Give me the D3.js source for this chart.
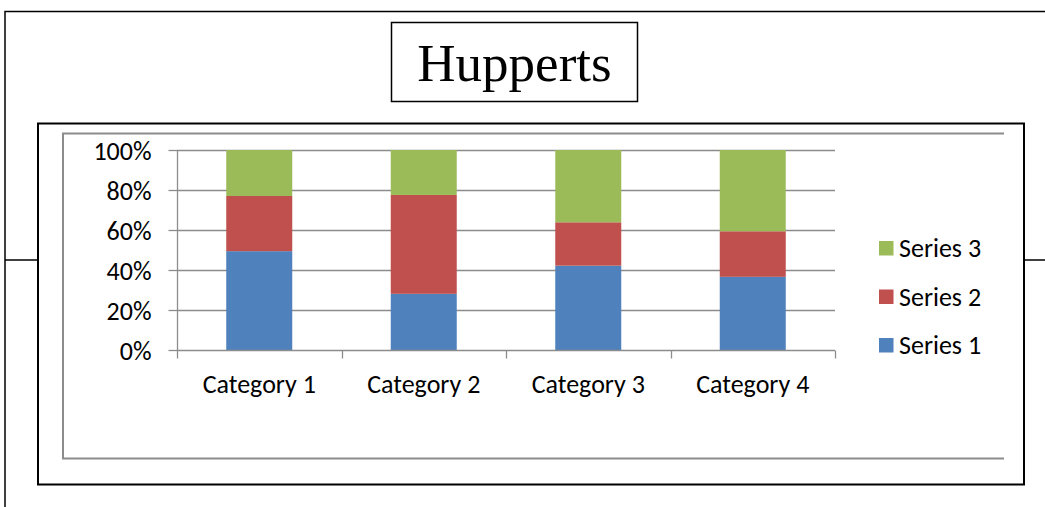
<!DOCTYPE html>
<html>
<head>
<meta charset="utf-8">
<script src="https://cdn.jsdelivr.net/npm/d3@7"></script>
<style>
  html, body { margin: 0; padding: 0; background: #fff; }
  svg { display: block; }
  .lbl { font-family: Carlito, Calibri, Lato, "Open Sans", sans-serif; fill: #000; }
</style>
</head>
<body>
<svg id="chart" width="1045" height="507"></svg>
<script>
// Chart data
const categories = ["Category 1", "Category 2", "Category 3", "Category 4"];
const seriesNames = ["Series 1", "Series 2", "Series 3"];
const series1 = [4.3, 2.5, 3.5, 4.5];
const series2 = [2.4, 4.4, 1.8, 2.8];
const series3 = [2, 2, 3, 5];
const yTicks = [0, 0.2, 0.4, 0.6, 0.8, 1];
const colors = ["#4F81BD", "#C0504D", "#9BBB59"];

const rows = categories.map((c, i) => ({
  category: c,
  "Series 1": series1[i],
  "Series 2": series2[i],
  "Series 3": series3[i]
}));

const svg = d3.select("#chart");

// Page frame lines
svg.append("path")
  .attr("d", "M5,507 V11.5 H1045")
  .attr("fill", "none").attr("stroke", "#000").attr("stroke-width", 1.5);
svg.append("line").attr("x1", 5).attr("x2", 38).attr("y1", 260).attr("y2", 260)
  .attr("stroke", "#000").attr("stroke-width", 1.5);
svg.append("line").attr("x1", 1024).attr("x2", 1045).attr("y1", 260).attr("y2", 260)
  .attr("stroke", "#000").attr("stroke-width", 1.5);

// Title box
svg.append("rect").attr("x", 391.5).attr("y", 22.5).attr("width", 246).attr("height", 79)
  .attr("fill", "#fff").attr("stroke", "#000").attr("stroke-width", 1.5);
svg.append("text").attr("x", 514.5).attr("y", 81)
  .attr("text-anchor", "middle")
  .style("font-family", "'Liberation Serif', 'Times New Roman', serif")
  .style("font-size", "53px")
  .text("Hupperts");

// Chart box
svg.append("rect").attr("x", 38).attr("y", 123.5).attr("width", 986).attr("height", 361)
  .attr("fill", "#fff").attr("stroke", "#000").attr("stroke-width", 2);

// Plot area border (top, left, bottom)
svg.append("path")
  .attr("d", "M1004,133.5 H63 V458.5 H1004")
  .attr("fill", "none").attr("stroke", "#8C8C8C").attr("stroke-width", 2);

const x = d3.scaleBand().domain(categories).range([177, 835]).paddingInner(0).paddingOuter(0);
const y = d3.scaleLinear().domain([0, 1]).range([350, 150]);

// Gridlines
svg.append("g").selectAll("line").data(yTicks.filter(d => d > 0)).join("line")
  .attr("x1", 177).attr("x2", 835)
  .attr("y1", d => Math.round(y(d)) + 0.5).attr("y2", d => Math.round(y(d)) + 0.5)
  .attr("stroke", "#8C8C8C").attr("stroke-width", 1.3);

// Stacked percentage bars
const stack = d3.stack().keys(seriesNames).offset(d3.stackOffsetExpand);
const layers = stack(rows);
const barW = 66;
svg.append("g").selectAll("g").data(layers).join("g")
  .attr("fill", (d, i) => colors[i])
  .selectAll("rect").data(d => d).join("rect")
  .attr("x", d => x(d.data.category) + x.bandwidth() / 2 - barW / 2)
  .attr("width", barW)
  .attr("y", d => y(d[1]))
  .attr("height", d => y(d[0]) - y(d[1]));

// Y axis
const yAxis = d3.axisLeft(y).tickValues(yTicks).tickFormat(d3.format(".0%")).tickSize(9).tickPadding(17);
const gy = svg.append("g").attr("transform", "translate(177.5,0)").call(yAxis);
gy.select(".domain").attr("stroke", "#8C8C8C").attr("stroke-width", 1.3).attr("d", "M0,150V350");
gy.selectAll(".tick line").attr("stroke", "#8C8C8C").attr("stroke-width", 1.3);
gy.selectAll(".tick text").attr("class", "lbl").style("font-size", "26px").attr("dy", "0.35em");

// X axis
const xAxis = d3.axisBottom(x).tickSize(0).tickPadding(24);
const gx = svg.append("g").attr("transform", "translate(0,350.5)").call(xAxis);
gx.select(".domain").attr("stroke", "#8C8C8C").attr("stroke-width", 1.3).attr("d", "M177,0H835");
gx.selectAll(".tick text").attr("class", "lbl").style("font-size", "26px");
// Category boundary tick marks
const bounds = categories.map(c => x(c)).concat([x.range()[1]]);
gx.append("g").selectAll("line").data(bounds).join("line")
  .attr("x1", d => Math.round(d) + 0.5).attr("x2", d => Math.round(d) + 0.5)
  .attr("y1", 0).attr("y2", 8)
  .attr("stroke", "#8C8C8C").attr("stroke-width", 1.3);

// Legend
const legendItems = seriesNames.map((s, i) => ({ name: s, color: colors[i] })).reverse();
const lg = svg.append("g").selectAll("g").data(legendItems).join("g")
  .attr("transform", (d, i) => `translate(879,${248.5 + i * 48.5})`);
lg.append("rect").attr("x", 0).attr("y", -7.5).attr("width", 14.5).attr("height", 14.5)
  .attr("fill", d => d.color);
lg.append("text").attr("class", "lbl").attr("x", 20).attr("dy", "0.33em")
  .style("font-size", "26px").text(d => d.name);
</script>
</body>
</html>
